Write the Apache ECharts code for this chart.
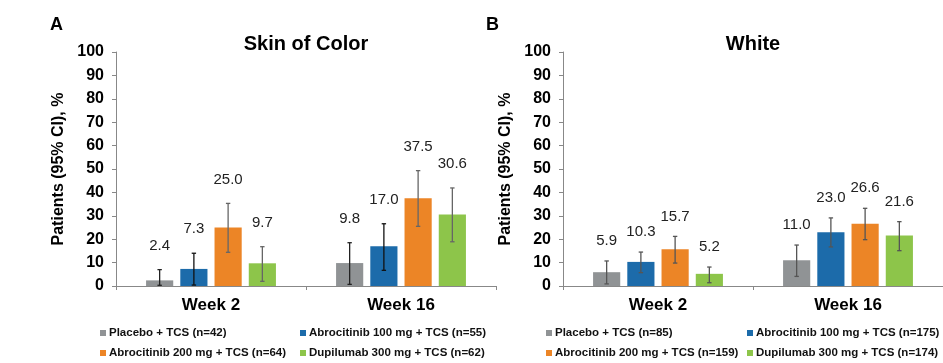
<!DOCTYPE html>
<html><head><meta charset="utf-8">
<script src="https://cdn.jsdelivr.net/npm/echarts@6/dist/echarts.min.js"></script>
<style>html,body{margin:0;padding:0;background:#fff}#c{width:943px;height:363px}</style>
</head><body><div id="c"></div>
<script>
// ---------- data ----------
const categories = ['Week 2', 'Week 16'];
const yMin = 0, yMax = 100, yInterval = 10;

const namesA = ['Placebo + TCS (n=42)', 'Abrocitinib 100 mg + TCS (n=55)', 'Abrocitinib 200 mg + TCS (n=64)', 'Dupilumab 300 mg + TCS (n=62)'];
const namesB = ['Placebo + TCS (n=85)', 'Abrocitinib 100 mg + TCS (n=175)', 'Abrocitinib 200 mg + TCS (n=159)', 'Dupilumab 300 mg + TCS (n=174)'];

// Panel A: Skin of Color
const socPlacebo = [2.4, 9.8];
const socAbro100 = [7.3, 17.0];
const socAbro200 = [25.0, 37.5];
const socDupi300 = [9.7, 30.6];
const socPlaceboCI = [[0.3, 7.0], [0.7, 18.5]];
const socAbro100CI = [[0.4, 14.0], [6.7, 26.6]];
const socAbro200CI = [[14.4, 35.3], [25.5, 49.3]];
const socDupi300CI = [[2.0, 16.8], [18.9, 41.9]];

// Panel B: White
const whPlacebo = [5.9, 11.0];
const whAbro100 = [10.3, 23.0];
const whAbro200 = [15.7, 26.6];
const whDupi300 = [5.2, 21.6];
const whPlaceboCI = [[0.9, 10.7], [4.1, 17.5]];
const whAbro100CI = [[5.7, 14.5], [16.7, 29.1]];
const whAbro200CI = [[9.8, 21.2], [19.8, 33.2]];
const whDupi300CI = [[1.4, 8.1], [15.1, 27.5]];

// ---------- style ----------
const FONT = '"Liberation Sans", Arial, Helvetica, sans-serif';
const colors = ['#909395', '#1C6BAA', '#EC8526', '#8DC54A'];
const errColorsA = ['#222', '#111', '#666', '#666'];
const errColorsB = ['#555', '#555', '#555', '#555'];
const BAR_W = 0.143, BAR_GAP = 0.26;

const panels = [
  { names: namesA, vals: [socPlacebo, socAbro100, socAbro200, socDupi300], ci: [socPlaceboCI, socAbro100CI, socAbro200CI, socDupi300CI], err: errColorsA, labelOff: 24 },
  { names: namesB, vals: [whPlacebo, whAbro100, whAbro200, whDupi300], ci: [whPlaceboCI, whAbro100CI, whAbro200CI, whDupi300CI], err: errColorsB, labelOff: 20 }
];

const grids = [
  { left: 116, width: 380, top: 52, height: 234 },
  { left: 563, width: 380, top: 52, height: 234 }
];

const xAxes = grids.map((g, i) => ({
  type: 'category', gridIndex: i, data: categories,
  axisLine: { lineStyle: { color: '#888', width: 1 } },
  axisTick: { show: true, length: 4, lineStyle: { color: '#888' } },
  axisLabel: { color: '#000', fontFamily: FONT, fontWeight: 'bold', fontSize: 17, margin: 11 }
}));
const yAxes = grids.map((g, i) => ({
  type: 'value', gridIndex: i, min: yMin, max: yMax, interval: yInterval,
  name: 'Patients (95% CI), %', nameLocation: 'middle', nameGap: 49,
  nameTextStyle: { color: '#000', fontFamily: FONT, fontWeight: 'bold', fontSize: 16 },
  axisLine: { show: true, lineStyle: { color: '#888', width: 1 } },
  axisTick: { show: true, length: 4, lineStyle: { color: '#888' } },
  splitLine: { show: false },
  axisLabel: { color: '#000', fontFamily: FONT, fontWeight: 'bold', fontSize: 16, margin: 12, padding: [3, 0, 0, 0] }
}));

const series = [];
panels.forEach((p, pi) => {
  p.names.forEach((n, si) => {
    series.push({
      type: 'bar', name: n, xAxisIndex: pi, yAxisIndex: pi,
      data: p.vals[si], barWidth: (BAR_W * 100) + '%', barGap: (BAR_GAP * 100) + '%',
      itemStyle: { color: colors[si] }
    });
  });
  const errData = [];
  p.vals.forEach((arr, si) => arr.forEach((v, ci) => {
    errData.push([ci, p.ci[si][ci][1], p.ci[si][ci][0], v, si]);
  }));
  series.push({
    type: 'custom', xAxisIndex: pi, yAxisIndex: pi, z: 10, silent: true,
    encode: { x: 0, y: 1 },
    data: errData,
    renderItem: (params, api) => {
      const cat = api.value(0), hi = api.value(1), lo = api.value(2), v = api.value(3), si = api.value(4);
      const band = api.size([1, 0])[0];
      const bw = band * BAR_W, gap = bw * BAR_GAP;
      const cx = api.coord([cat, 0])[0] + (si - 1.5) * (bw + gap);
      const yHi = api.coord([cat, hi])[1], yLo = api.coord([cat, lo])[1];
      const c = p.err[si], cap = 2.2;
      const ls = { stroke: c, lineWidth: 1.3 };
      return { type: 'group', children: [
        { type: 'line', shape: { x1: cx, y1: yHi, x2: cx, y2: yLo }, style: ls },
        { type: 'line', shape: { x1: cx - cap, y1: yHi, x2: cx + cap, y2: yHi }, style: ls },
        { type: 'line', shape: { x1: cx - cap, y1: yLo, x2: cx + cap, y2: yLo }, style: ls },
        { type: 'text', style: { text: v.toFixed(1), x: cx, y: yHi - p.labelOff, align: 'center', verticalAlign: 'middle',
          font: '15px ' + FONT, fill: '#222' } }
      ] };
    }
  });
});

function legendItem(left, top, name) {
  return {
    left: left, top: top, orient: 'horizontal', itemWidth: 6, itemHeight: 6, icon: 'rect',
    data: [name], selectedMode: false, padding: 0,
    textStyle: { fontFamily: FONT, fontWeight: 'bold', fontSize: 11.5, color: '#111', padding: [0, 0, 0, -2] }
  };
}
const legends = [
  legendItem(100, 327, namesA[0]), legendItem(100, 347, namesA[2]),
  legendItem(300, 327, namesA[1]), legendItem(300, 347, namesA[3]),
  legendItem(546, 327, namesB[0]), legendItem(546, 347, namesB[2]),
  legendItem(747, 327, namesB[1]), legendItem(747, 347, namesB[3])
];

const txt = (t, x, y, size, align) => ({ type: 'text', x: x, y: y,
  style: { text: t, font: 'bold ' + size + 'px ' + FONT, fill: '#000', align: align, verticalAlign: 'middle' } });

const chart = echarts.init(document.getElementById('c'), null, { renderer: 'canvas' });
chart.setOption({
  animation: false,
  backgroundColor: '#fff',
  grid: grids,
  xAxis: xAxes,
  yAxis: yAxes,
  legend: legends,
  series: series,
  graphic: [
    txt('A', 50, 25, 18, 'left'),
    txt('B', 486, 25, 18, 'left'),
    txt('Skin of Color', 306, 44, 20, 'center'),
    txt('White', 753, 44, 20, 'center')
  ]
});
</script></body></html>
